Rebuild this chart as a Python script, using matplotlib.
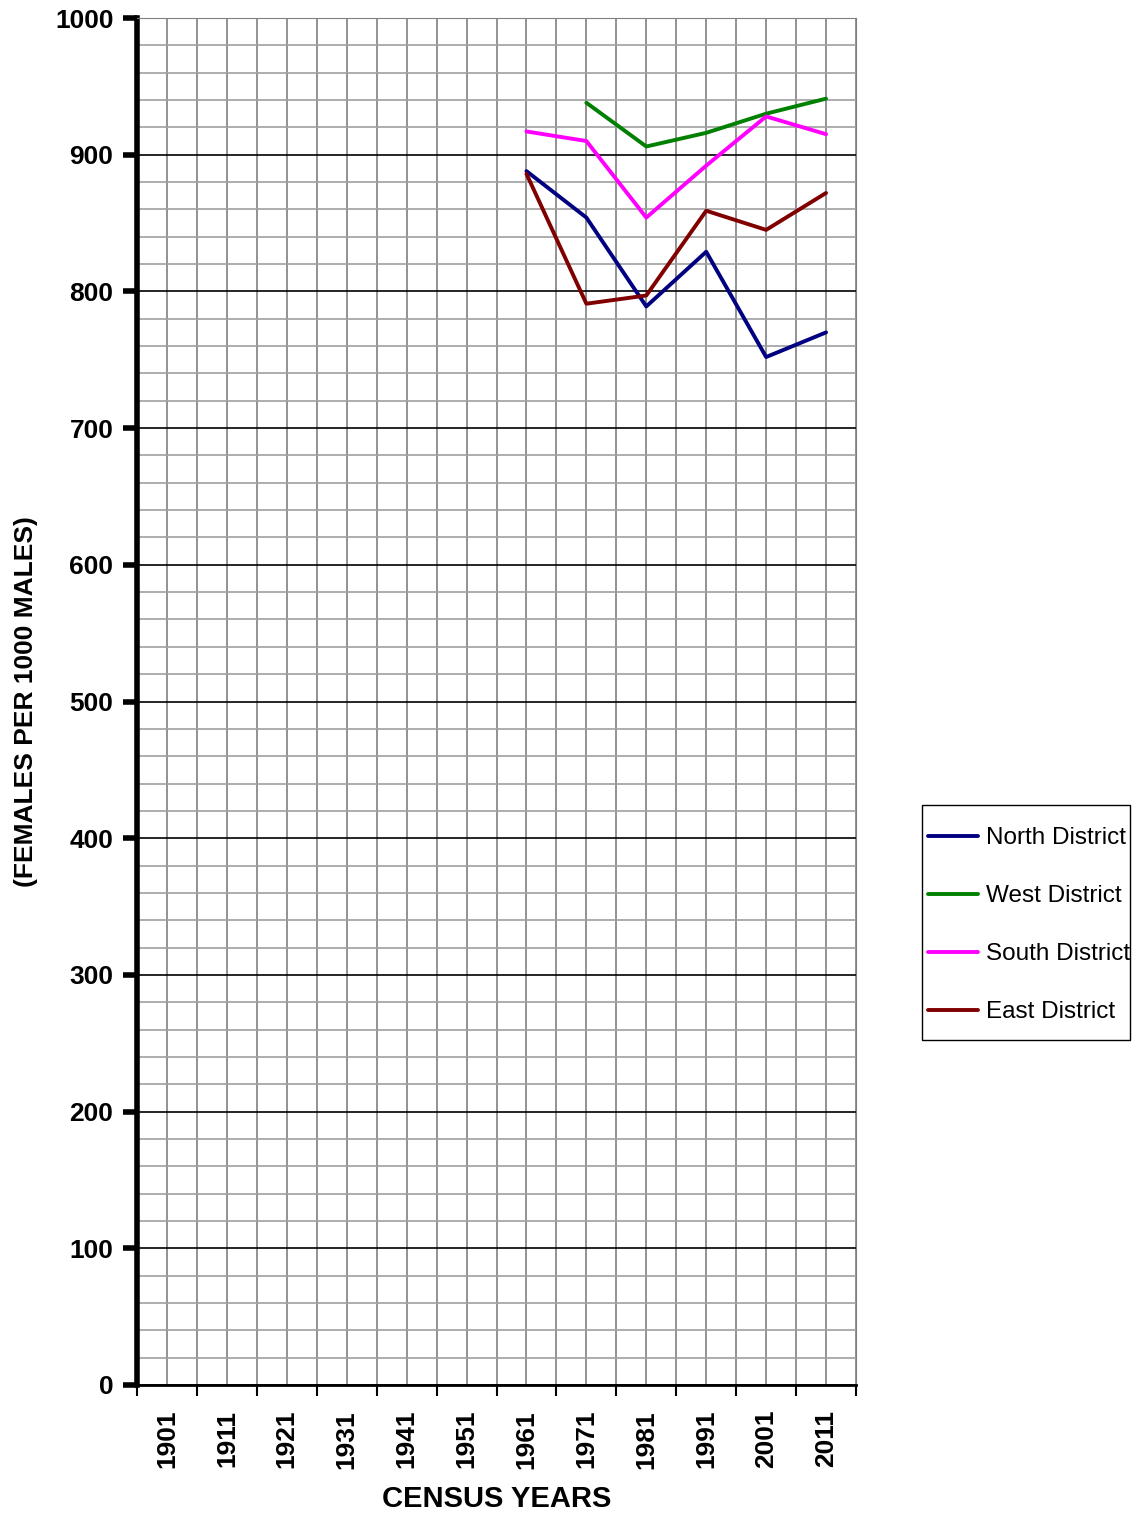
import matplotlib
matplotlib.use("Agg")
import matplotlib.pyplot as plt
import matplotlib.patches as patches
import numpy as np
from matplotlib.ticker import MultipleLocator, FixedLocator

plt.rcParams['font.family'] = ['Liberation Sans', 'DejaVu Sans']

# census years (categories)
annees = ['1901', '1911', '1921', '1931', '1941', '1951', '1961',
          '1971', '1981', '1991', '2001', '2011']

# sex ratio values, None = no data
north = [None, None, None, None, None, None, 888, 854, 789, 829, 752, 770]
west = [None, None, None, None, None, None, None, 938, 906, 916, 930, 941]
south = [None, None, None, None, None, None, 917, 910, 854, 892, 928, 915]
east = [None, None, None, None, None, None, 886, 791, 797, 859, 845, 872]

series = [("North District", north, "#000080"),
          ("West District", west, "#008000"),
          ("South District", south, "#ff00ff"),
          ("East District", east, "#800000")]

W, H = 1144, 1513
fig = plt.figure(figsize=(W/100, H/100), dpi=100)
ax = fig.add_axes([137/W, 1 - 1385/H, (856-137)/W, (1385-18)/H])

x = np.arange(len(annees))
for nom, vals, couleur in series:
    y = np.array([np.nan if v is None else v for v in vals], dtype=float)
    ax.plot(x, y, color=couleur, linewidth=2.8, label=nom, solid_capstyle='round')

ax.set_xlim(-0.5, len(annees) - 0.5)
ax.set_ylim(0, 1000)

# grille
ax.yaxis.set_major_locator(MultipleLocator(100))
ax.yaxis.set_minor_locator(MultipleLocator(20))
ax.xaxis.set_major_locator(FixedLocator(x))
ax.xaxis.set_minor_locator(FixedLocator(np.arange(-0.5, len(annees), 1)))
ax.set_xticklabels(annees, rotation=90, fontsize=19, fontweight='bold')
ax.grid(True, which='major', axis='y', color='black', linewidth=1.2)
ax.grid(True, which='minor', axis='y', color='#a0a0a0', linewidth=1.2)
ax.grid(True, which='both', axis='x', color='#808080', linewidth=1.2)
ax.set_axisbelow(True)

ax.tick_params(axis='x', which='major', length=0, pad=18)
ax.tick_params(axis='x', which='minor', length=8, width=1.5, color='black')
ax.tick_params(axis='y', which='major', length=10, width=4, labelsize=19, pad=7)
ax.tick_params(axis='y', which='minor', length=0)
for lbl in ax.get_yticklabels():
    lbl.set_fontweight('bold')

ax.spines['left'].set_linewidth(4)
ax.spines['bottom'].set_linewidth(2)
ax.spines['top'].set_color('#808080')
ax.spines['right'].set_color('#808080')

ax.set_xlabel("CENSUS YEARS", fontsize=21, fontweight='bold', labelpad=12)
ax.set_ylabel("(FEMALES PER 1000 MALES)", fontsize=19, fontweight='bold')
ax.yaxis.set_label_coords(-0.137, 0.5)

# legende sans cadre + cadre dessine a part
leg = fig.legend(loc='upper left', bbox_to_anchor=(921/W, 1 - 820/H),
                 fontsize=17.5, frameon=False,
                 handlelength=2.05, labelspacing=1.48,
                 borderpad=0.3, handletextpad=0.33, borderaxespad=0)
cadre = patches.Rectangle((922/W, 1 - 1040/H), 208/W, 235/H, transform=fig.transFigure,
                          fill=False, edgecolor='black', linewidth=1)
fig.add_artist(cadre)

fig.savefig("out.png", dpi=100)
